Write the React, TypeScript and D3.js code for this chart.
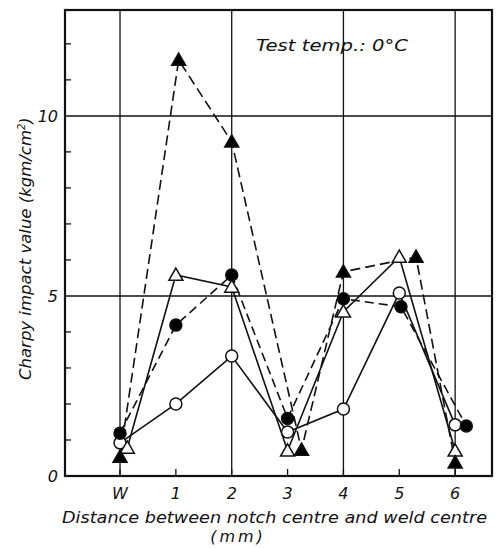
import React from "react";
import * as d3 from "d3";

const xTickValues = [0, 1, 2, 3, 4, 5, 6];
const xTickLabels = ["W", "1", "2", "3", "4", "5", "6"];
const yTickLabelValues = [0, 5, 10];
const yMinorTicks = [1, 2, 3, 4, 6, 7, 8, 9, 11, 12];
const xGridValues = [0, 2, 4, 6];
const yGridValues = [5, 10];

// filled triangles, dashed
const filledTriX = [0, 1.05, 2.0, 3.25, 4.0, 5.3, 6.0];
const filledTriY = [0.53, 11.55, 9.28, 0.72, 5.67, 6.08, 0.37];
// open triangles, solid
const openTriX = [0.13, 1.0, 2.0, 3.0, 4.0, 5.0, 6.0];
const openTriY = [0.78, 5.58, 5.25, 0.7, 4.56, 6.08, 0.7];
// filled circles, dashed
const filledCircX = [0, 1.0, 2.0, 3.0, 4.0, 5.03, 6.2];
const filledCircY = [1.19, 4.19, 5.58, 1.6, 4.92, 4.7, 1.39];
// open circles, solid
const openCircX = [0, 1.0, 2.0, 3.0, 4.0, 5.0, 6.0];
const openCircY = [0.92, 2.0, 3.33, 1.22, 1.86, 5.08, 1.42];

const W = 496;
const H = 548;
const FONT = "'DejaVu Sans', 'Liberation Sans', sans-serif";

export default function App() {
  const x = d3.scaleLinear().domain([-0.985, 6.66]).range([65, 492]);
  const y = d3.scaleLinear().domain([0, 12.94]).range([476, 10]);
  const line = d3
    .line<[number, number]>()
    .x((d) => x(d[0]))
    .y((d) => y(d[1]));
  const zip = (xs: number[], ys: number[]) =>
    xs.map((v, i) => [v, ys[i]] as [number, number]);

  const triPath = (cx: number, cy: number) => {
    const s = 7;
    return `M${cx},${cy - s} L${cx + s},${cy + s * 0.75} L${cx - s},${cy + s * 0.75} Z`;
  };

  const series = [
    { pts: zip(openCircX, openCircY), dash: "none", shape: "circle", fill: "white" },
    { pts: zip(openTriX, openTriY), dash: "none", shape: "tri", fill: "white" },
    { pts: zip(filledCircX, filledCircY), dash: "9,5", shape: "circle", fill: "black" },
    { pts: zip(filledTriX, filledTriY), dash: "10,5", shape: "tri", fill: "black" },
  ];

  return (
    <svg width={W} height={H} style={{ display: "block", position: "absolute", left: 0, top: 0, background: "white" }}>
      <rect x={0} y={0} width={W} height={H} fill="white" />
      {/* grid */}
      {xGridValues.map((v) => (
        <line key={"gx" + v} x1={x(v)} x2={x(v)} y1={y(12.94)} y2={y(0)} stroke="#111" strokeWidth={1.3} />
      ))}
      {yGridValues.map((v) => (
        <line key={"gy" + v} x1={x(-0.985)} x2={x(6.66)} y1={y(v)} y2={y(v)} stroke="#111" strokeWidth={1.5} />
      ))}
      {/* minor ticks */}
      {yMinorTicks.map((v) => (
        <line key={"my" + v} x1={65} x2={71} y1={y(v)} y2={y(v)} stroke="#111" strokeWidth={1.3} />
      ))}
      {xTickValues.map((v) => (
        <line key={"mx" + v} x1={x(v)} x2={x(v)} y1={476} y2={469} stroke="#111" strokeWidth={1.3} />
      ))}
      {/* frame */}
      <rect x={65} y={10} width={427} height={466} fill="none" stroke="#111" strokeWidth={2.2} />
      {/* series lines */}
      {series.map((s, i) => (
        <path
          key={"l" + i}
          d={line(s.pts) || ""}
          fill="none"
          stroke="#111"
          strokeWidth={1.6}
          strokeDasharray={s.dash}
        />
      ))}
      {/* markers */}
      {series.map((s, i) =>
        s.pts.map((p, j) =>
          s.shape === "circle" ? (
            <circle key={`m${i}-${j}`} cx={x(p[0])} cy={y(p[1])} r={6} fill={s.fill} stroke="#111" strokeWidth={1.5} />
          ) : (
            <path key={`m${i}-${j}`} d={triPath(x(p[0]), y(p[1]))} fill={s.fill} stroke="#111" strokeWidth={1.5} />
          )
        )
      )}
      {/* tick labels */}
      {xTickValues.map((v, i) => (
        <text key={"xl" + v} x={x(v)} y={499} textAnchor="middle" fontFamily={FONT} fontStyle="italic" fontSize={16} fill="#111">
          {xTickLabels[i]}
        </text>
      ))}
      {yTickLabelValues.map((v) => (
        <text key={"yl" + v} x={58} y={y(v) + 6} textAnchor="end" fontFamily={FONT} fontStyle="italic" fontSize={16} fill="#111">
          {v}
        </text>
      ))}
      {/* annotation */}
      <text x={256} y={51} fontFamily={FONT} fontStyle="italic" fontSize={16} fill="#111" textLength={152} lengthAdjust="spacingAndGlyphs">
        Test temp.: 0°C
      </text>
      {/* axis titles */}
      <text
        transform={`translate(31,380) rotate(-90)`}
        fontFamily={FONT}
        fontStyle="italic"
        fontSize={16}
        fill="#111"
      >
        <tspan textLength={250} lengthAdjust="spacingAndGlyphs">Charpy impact value (kgm/cm</tspan>
        <tspan dy={-6} fontSize={10}>2</tspan>
        <tspan dy={6}>)</tspan>
      </text>
      <text x={62} y={523} fontFamily={FONT} fontStyle="italic" fontSize={16} fill="#111" textLength={425} lengthAdjust="spacingAndGlyphs">
        Distance between notch centre and weld centre
      </text>
      <text x={238} y={542} textAnchor="middle" fontFamily={FONT} fontStyle="italic" fontSize={16} fill="#111" letterSpacing={3}>
        (mm)
      </text>
    </svg>
  );
}
